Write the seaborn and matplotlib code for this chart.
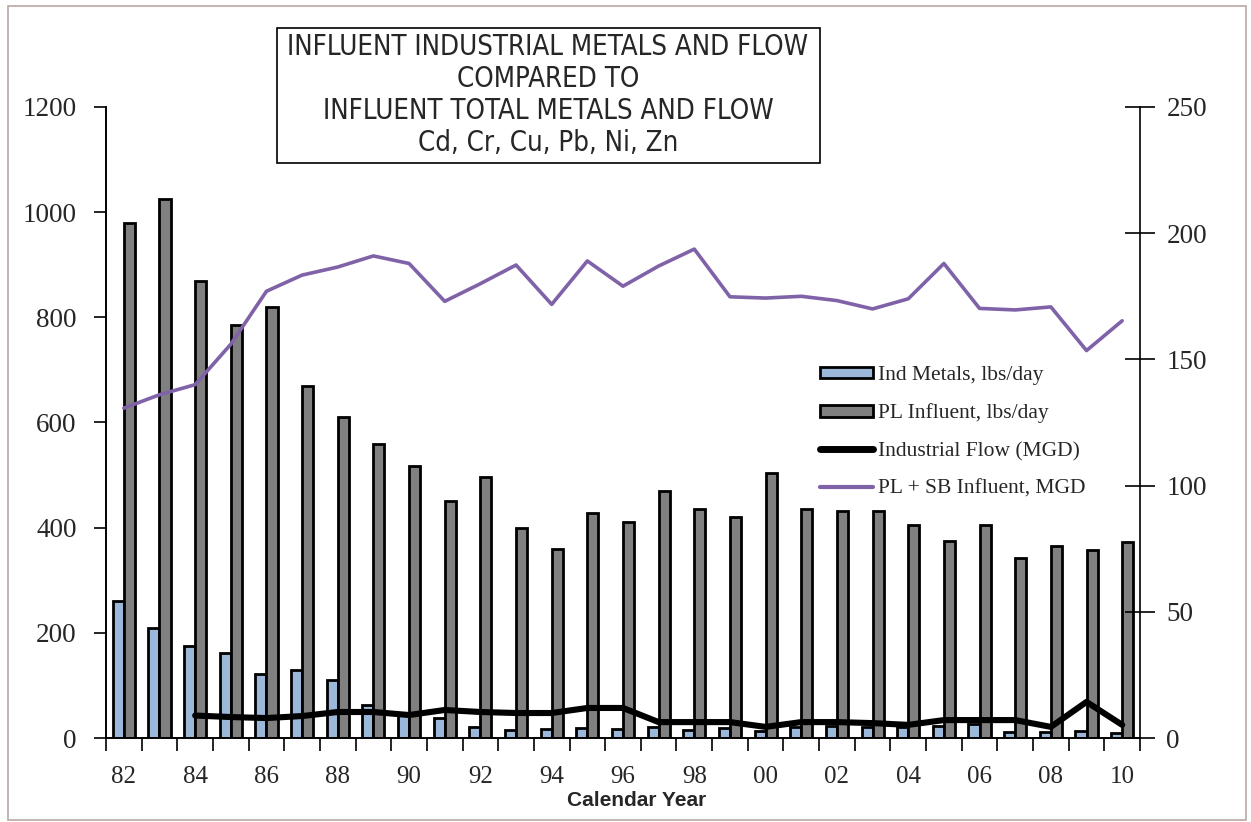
import numpy as np
import pandas as pd
import matplotlib
matplotlib.use('Agg')
import matplotlib.pyplot as plt
import seaborn as sns
from matplotlib.patches import Rectangle, Patch
from matplotlib.lines import Line2D

# data
years = ['82', '83', '84', '85', '86', '87', '88', '89', '90', '91',
         '92', '93', '94', '95', '96', '97', '98', '99', '00', '01',
         '02', '03', '04', '05', '06', '07', '08', '09', '10']

ind_metals = [260, 210, 175, 162, 122, 130, 110, 63, 45, 38,
              21, 15, 18, 19, 18, 21, 15, 19, 13, 21,
              23, 21, 20, 23, 26, 11, 12, 13, 10]

pl_influent = [980, 1025, 870, 785, 820, 670, 610, 560, 518, 450,
               497, 400, 360, 428, 410, 469, 435, 420, 504, 436,
               432, 432, 405, 374, 405, 342, 365, 357, 373]

ind_flow = [np.nan, np.nan, 8.9, 8.3, 7.9, 8.7, 10.3, 10.3, 9.1, 11.1,
            10.3, 9.9, 9.9, 11.9, 11.9, 6.3, 6.3, 6.3, 4.4, 6.3,
            6.3, 5.9, 5.2, 7.1, 7.1, 7.1, 4.4, 14.3, 5.2]

plsb_flow = [130.7, 136.0, 140.0, 156.0, 177.0, 183.4, 186.6, 191.0, 188.0, 173.0,
             180.0, 187.4, 171.8, 189.0, 179.0, 187.0, 193.7, 174.8, 174.3, 175.0,
             173.3, 170.0, 174.0, 188.0, 170.2, 169.6, 170.8, 153.5, 165.3]

bar_names = ['Ind Metals, lbs/day', 'PL Influent, lbs/day']
line_names = ['Industrial Flow (MGD)', 'PL + SB Influent, MGD']

blue = '#9bb7da'
gray = '#808080'
purple = '#7f62a8'

sns.set_style('white')
plt.rcParams['font.family'] = ['Liberation Serif', 'DejaVu Serif']

df = pd.DataFrame({
    'year': years * 2,
    'series': [bar_names[0]] * len(years) + [bar_names[1]] * len(years),
    'value': ind_metals + pl_influent,
})

fig = plt.figure(figsize=(12.51, 8.22), dpi=100)
ax = fig.add_axes([106 / 1251, 1 - 738 / 822, (1140 - 106) / 1251, (738 - 107) / 822])

sns.barplot(data=df, x='year', y='value', hue='series', palette=[blue, gray],
            width=0.62, gap=0, edgecolor='black', linewidth=2,
            ax=ax, legend=False, saturation=1)

ax2 = ax.twinx()
idx = np.arange(len(years))
sns.lineplot(x=idx, y=plsb_flow, color=purple, linewidth=2.6, ax=ax2)
sns.lineplot(x=idx, y=ind_flow, color='black', linewidth=4.4, ax=ax2)

# axes limits / ticks
ax.set_xlim(-0.5, len(years) - 0.5)
ax.set_ylim(0, 1200)
ax.set_yticks(range(0, 1201, 200))
ax2.set_ylim(0, 250)
ax2.set_yticks(range(0, 251, 50))

ax.set_xticks(np.arange(len(years) + 1) - 0.5)
ax.set_xticklabels([])
ax.set_xticks(idx[::2], minor=True)
ax.set_xticklabels(years[::2], minor=True)
ax.tick_params(axis='x', which='major', direction='out', length=9, width=1.2, color='black', bottom=True)
ax.tick_params(axis='x', which='minor', length=0, pad=20, labelsize=18)
ax.tick_params(axis='y', direction='out', length=9, width=1.2, color='black', left=True, pad=12, labelsize=19.5)
ax2.tick_params(axis='y', direction='inout', length=22, width=1.2, color='black', right=True, pad=8, labelsize=19.5)

ax.set_xlabel('')
ax.set_ylabel('')
ax2.set_ylabel('')

for a in (ax, ax2):
    a.spines['top'].set_visible(False)
    for s in ('left', 'right', 'bottom'):
        a.spines[s].set_color('black')
        a.spines[s].set_linewidth(1.2)
ax.spines['right'].set_visible(False)

fig.text(637 / 1251, 1 - 800 / 822, 'Calendar Year', ha='center', va='center',
         fontsize=15, fontweight='bold', family=['Liberation Sans', 'DejaVu Sans'])

# title box
fig.patches.append(Rectangle((277 / 1251, 1 - 163 / 822), (820 - 277) / 1251, (163 - 28) / 822,
                             transform=fig.transFigure, fill=False, edgecolor='black', linewidth=1.2))
title_lines = ['INFLUENT INDUSTRIAL METALS AND FLOW', 'COMPARED TO',
               'INFLUENT TOTAL METALS AND FLOW', 'Cd, Cr, Cu, Pb, Ni, Zn']
for i, line in enumerate(title_lines):
    fig.text(548 / 1251, 1 - (47 + i * 32) / 822, line, ha='center', va='center',
             fontsize=19.8, family=['DejaVu Sans'], fontstretch='condensed')

# outer frame
fig.patches.append(Rectangle((8 / 1251, 1 - 820 / 822), (1246 - 8) / 1251, (820 - 6) / 822,
                             transform=fig.transFigure, fill=False, edgecolor='#b8a8a4', linewidth=1.2))

# legend
handles = [Patch(facecolor=blue, edgecolor='black', linewidth=2),
           Patch(facecolor=gray, edgecolor='black', linewidth=2),
           Line2D([], [], color='black', linewidth=5),
           Line2D([], [], color=purple, linewidth=3)]
ax2.legend(handles, bar_names + line_names, loc='upper left',
           bbox_to_anchor=(820 / 1251, 1 - 366 / 822), bbox_transform=fig.transFigure,
           frameon=False, borderpad=0, borderaxespad=0, fontsize=15.5,
           handlelength=2.45, handleheight=0.45, handletextpad=0.25, labelspacing=0.86)

fig.savefig('out.png', dpi=100)
